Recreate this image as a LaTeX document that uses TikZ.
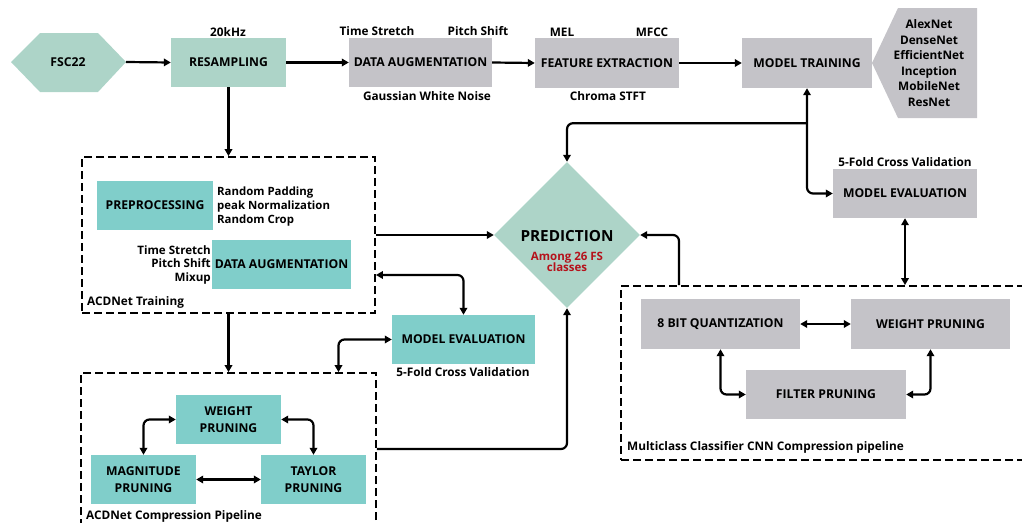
\documentclass[tikz,border=0pt]{standalone}
\usepackage{fontspec}
\setmainfont{Open Sans}
\usetikzlibrary{arrows.meta,shapes.geometric}
\definecolor{lgreen}{HTML}{ADD4C8}
\definecolor{tealbox}{HTML}{80CECA}
\definecolor{gbox}{HTML}{C4C3C8}
\definecolor{predred}{HTML}{B5121B}
\tikzset{
  box/.style={rectangle, inner sep=0pt, align=center, font=\bfseries\fontsize{12.2}{16.5}\selectfont},
  greenbox/.style={box, fill=lgreen},
  graybox/.style={box, fill=gbox},
  tbox/.style={box, fill=tealbox},
  dbox/.style={rectangle, draw=black, line width=1.8pt, dash pattern=on 8pt off 4pt},
  lbl/.style={inner sep=0pt, font=\bfseries\fontsize{11.8}{14}\selectfont},
  conn/.style={line width=2.2pt, rounded corners=6pt},
  tipend/.style={-{Triangle[length=7pt,width=7.5pt]}},
  tipboth/.style={{Triangle[length=7pt,width=7.5pt]}-{Triangle[length=7pt,width=7.5pt]}},
}
\begin{document}
\begin{tikzpicture}[x=1pt,y=-1pt]
\useasboundingbox (0,0) rectangle (1022,522);
% --- top row
\fill[lgreen] (11,62) -- (40,33) -- (98,33) -- (126,62) -- (98,92) -- (40,92) -- cycle;
\node[box] (fsc) at (68,62) {FSC22};
\coordinate (fscE) at (126,62);
\node[greenbox, minimum width=115pt, minimum height=49pt] (res) at (228.5,62.5) {RESAMPLING};
\node[graybox, minimum width=143pt, minimum height=49pt] (da1) at (420.5,62.5) {DATA AUGMENTATION};
\node[graybox, minimum width=144pt, minimum height=50pt] (fe) at (607,63) {FEATURE EXTRACTION};
\node[graybox, minimum width=130pt, minimum height=50pt] (mt) at (807,63) {MODEL TRAINING};
\fill[gbox] (872,63) -- (898,8) -- (977,8) -- (977,118) -- (898,118) -- cycle;
\node[lbl, align=center, font=\bfseries\fontsize{11.8}{15.5}\selectfont] (nets) at (929,63) {AlexNet\\DenseNet\\EfficientNet\\Inception\\MobileNet\\ResNet};
\node[lbl] (l20k) at (228,32) {20kHz};
\node[lbl] (lts) at (377,31) {Time Stretch};
\node[lbl] (lps) at (478,31) {Pitch Shift};
\node[lbl] (lgwn) at (427,96) {Gaussian White Noise};
\node[lbl] (lmel) at (562,32) {MEL};
\node[lbl] (lmfcc) at (652,32) {MFCC};
\node[lbl] (lchr) at (608,96) {Chroma STFT};
% --- right evaluation
\node[graybox, minimum width=144pt, minimum height=49pt] (me1) at (905,193.5) {MODEL EVALUATION};
\node[lbl] (l5f1) at (905,162) {5-Fold Cross Validation};
% --- prediction
\node[diamond, fill=lgreen, minimum width=146pt, minimum height=146pt, inner sep=0pt] (pred) at (567,235) {};
\node[inner sep=0pt, font=\bfseries\fontsize{15.3}{17}\selectfont] (predT) at (567,236) {PREDICTION};
\node[inner sep=0pt, align=center, text=predred, font=\bfseries\fontsize{11.5}{11.5}\selectfont] (predS) at (567,262) {Among 26 FS\\classes};
% --- ACDNet training
\node[dbox, minimum width=293pt, minimum height=156pt] (trainbox) at (228.5,235) {};
\node[tbox, minimum width=116pt, minimum height=49pt] (pre) at (155,205.5) {PREPROCESSING};
\node[lbl, anchor=west, align=left, font=\bfseries\fontsize{11.4}{14}\selectfont] (lpre) at (217,207) {Random Padding\\peak Normalization\\Random Crop};
\node[tbox, minimum width=139pt, minimum height=49pt] (da2) at (281.5,264.5) {DATA AUGMENTATION};
\node[lbl, anchor=east, align=right, font=\bfseries\fontsize{11.6}{13.5}\selectfont] (lda2) at (211,264.5) {Time Stretch\\Pitch Shift\\Mixup};
\node[lbl, anchor=west] (ltrain) at (87,302) {ACDNet Training};
% --- ACDNet evaluation
\node[tbox, minimum width=143pt, minimum height=49pt] (me2) at (463.5,339.5) {MODEL EVALUATION};
\node[lbl] (l5f2) at (463,372) {5-Fold Cross Validation};
% --- ACDNet compression
\node[dbox, minimum width=295pt, minimum height=152pt] (compbox) at (228.5,449) {};
\node[tbox, minimum width=105pt, minimum height=49pt] (wp1) at (228.5,419.5) {WEIGHT\\PRUNING};
\node[tbox, minimum width=105pt, minimum height=49pt] (mag) at (143.5,479.5) {MAGNITUDE\\PRUNING};
\node[tbox, minimum width=105pt, minimum height=49pt] (tay) at (313.5,479.5) {TAYLOR\\PRUNING};
\node[lbl, anchor=west] (lcomp) at (86,516) {ACDNet Compression Pipeline};
% --- multiclass compression
\node[dbox, minimum width=409pt, minimum height=174pt] (multibox) at (825.5,373) {};
\node[graybox, minimum width=159pt, minimum height=50pt] (q8) at (720.5,324) {8 BIT QUANTIZATION};
\node[graybox, minimum width=159pt, minimum height=50pt] (wp2) at (930.5,324) {WEIGHT PRUNING};
\node[graybox, minimum width=160pt, minimum height=49pt] (fp) at (826,394.5) {FILTER PRUNING};
\node[lbl, anchor=west] (lmulti) at (627,447) {Multiclass Classifier CNN Compression pipeline};
% --- connectors
\draw[conn, tipend] (fscE) -- (res.west);
\draw[conn, tipend] (res.east) -- (da1.west);
\draw[conn, tipend] (da1.east) -- (fe.west);
\draw[conn, tipend] (fe.east) -- (mt.west);
\draw[conn, tipend] (res.south) -- (trainbox.north);
\coordinate (j1) at ([yshift=-35pt]mt.south);
\draw[conn, tipboth] (mt.south) -- (j1) |- (me1.west);
\draw[conn, tipend] (j1) -| (pred.north);
\draw[conn, tipboth] (me1.south) -- (me1.south |- multibox.north);
\draw[conn, tipend] ([xshift=-146.5pt]multibox.north) |- (pred.east);
\draw[conn, tipend] (trainbox.east) -- (pred.west);
\draw[conn, tipboth] ([yshift=-40pt]trainbox.east) -| (me2.north);
\draw[conn, tipend] (trainbox.south) -- (compbox.north);
\draw[conn, tipboth] (me2.west) -| ([xshift=110pt]compbox.north);
\draw[conn, tipend] (compbox.east) -| (pred.south);
\draw[conn, tipboth] (wp1.west) -| (mag.north);
\draw[conn, tipboth] (wp1.east) -| (tay.north);
\draw[conn, tipboth] (mag.east) -- (tay.west);
\draw[conn, tipboth] (q8.east) -- (wp2.west);
\draw[conn, tipboth] (q8.south) |- (fp.west);
\draw[conn, tipboth] (fp.east) -| (wp2.south);
\end{tikzpicture}
\end{document}
